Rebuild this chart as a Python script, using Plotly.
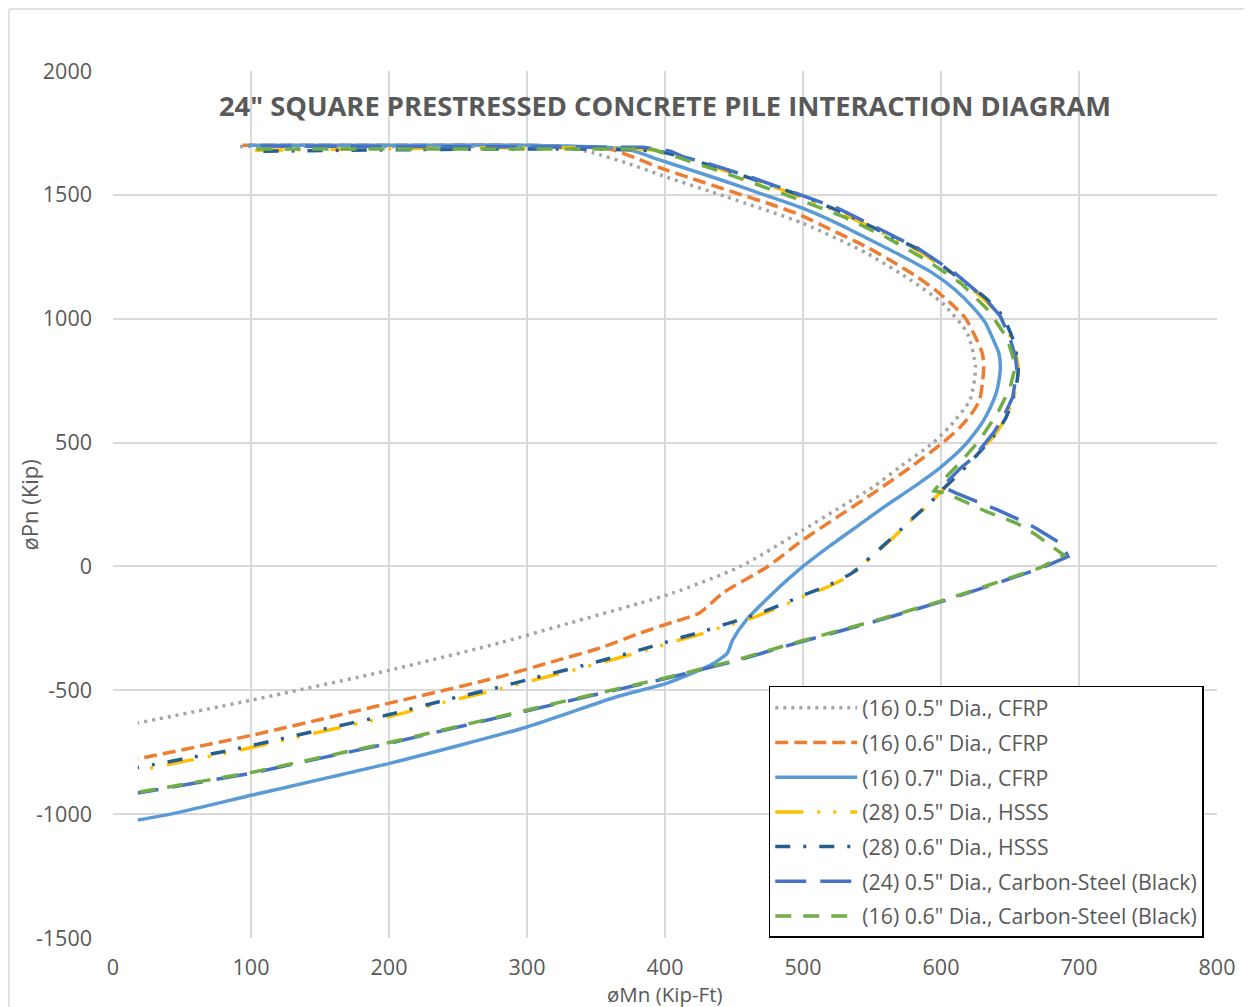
import plotly.graph_objects as go

# ---- data ----
series_names = [
    '(16) 0.5" Dia., CFRP',
    '(16) 0.6" Dia., CFRP',
    '(16) 0.7" Dia., CFRP',
    '(28) 0.5" Dia., HSSS',
    '(28) 0.6" Dia., HSSS',
    '(24) 0.5" Dia., Carbon-Steel (Black)',
    '(16) 0.6" Dia., Carbon-Steel (Black)',
]

mn_cfrp_05 = [92, 150, 250, 330, 348, 372, 401, 445, 500, 546, 578, 601, 619, 625, 621, 606, 594, 570, 551, 525,
              500, 454, 406, 382, 330, 280, 201, 101, 18]
pn_cfrp_05 = [1695, 1695, 1695, 1690, 1669, 1629, 1572, 1491, 1385, 1265, 1156, 1063, 942, 805, 672, 563, 498, 401, 321, 232,
              147, -2, -107, -148, -230, -309, -418, -539, -632]

mn_cfrp_06 = [94, 200, 300, 360, 378, 396, 420, 449, 475, 498, 522, 546, 565, 583, 596, 607, 618, 626, 630, 631,
              630, 628, 622, 614, 601, 578, 551, 525, 500, 474, 442, 425, 405, 382, 353, 320, 280, 201, 101, 18]
pn_cfrp_06 = [1700, 1700, 1700, 1685, 1650, 1610, 1565, 1512, 1465, 1419, 1355, 1290, 1230, 1168, 1115, 1063, 1000, 914, 860, 805,
              740, 672, 615, 563, 498, 401, 296, 200, 107, -2, -107, -188, -226, -269, -329, -382, -446, -551, -681, -777]

mn_cfrp_07 = [98, 200, 300, 372, 396, 420, 445, 472, 500, 524, 546, 570, 594, 610, 623, 632, 638, 642, 643, 642,
              640, 636, 631, 624, 616, 599, 580, 560, 540, 520, 500, 478, 459, 449, 445, 433, 401, 365, 300,
              201, 101, 46, 18]
pn_cfrp_07 = [1700, 1700, 1700, 1685, 1641, 1598, 1552, 1500, 1445, 1387, 1326, 1258, 1184, 1118, 1047, 985, 914, 860, 805, 750,
              700, 645, 591, 535, 482, 397, 320, 245, 165, 85, 0, -109, -216, -297, -351, -398, -472, -526, -648,
              -794, -923, -995, -1024]

mn_hsss_05 = [103, 395, 420, 445, 470, 500, 530, 560, 585, 609, 630, 643, 652, 656, 654, 647, 638, 626, 614, 601,
              592, 580, 568, 558, 545, 536, 517, 503, 484, 459, 443, 428, 413, 400, 382, 353, 300, 273, 241, 201,
              147, 117, 85, 53, 18]
pn_hsss_05 = [1680, 1680, 1640, 1595, 1548, 1490, 1420, 1340, 1270, 1176, 1085, 1007, 902, 800, 712, 600, 525, 450, 380, 308,
              254, 195, 130, 80, 15, -30, -85, -115, -162, -216, -242, -270, -293, -315, -345, -390, -466, -505, -547, -605,
              -672, -710, -750, -785, -825]

mn_hsss_06 = [109, 395, 420, 447, 472, 502, 532, 561, 587, 610, 632, 645, 653, 656, 654, 647, 638, 626, 614, 601,
              592, 580, 568, 558, 545, 536, 517, 503, 484, 459, 443, 428, 413, 400, 382, 353, 300, 273, 241, 201,
              147, 117, 85, 53, 18]
pn_hsss_06 = [1676, 1676, 1640, 1595, 1548, 1490, 1420, 1340, 1270, 1176, 1085, 1007, 902, 800, 712, 600, 525, 450, 380, 310,
              256, 197, 133, 83, 18, -25, -80, -110, -155, -208, -234, -262, -285, -307, -337, -382, -458, -497, -539, -597,
              -664, -702, -742, -775, -812]

mn_cs_05 = [107, 384, 404, 413, 435, 464, 493, 525, 554, 583, 609, 633, 643, 650, 654, 655, 652, 645, 638, 631,
            624, 614, 601, 611, 633, 641, 662, 670, 688, 692, 672, 604, 556, 498, 449, 401, 353, 280, 201, 101, 18]
pn_cs_05 = [1697, 1692, 1676, 1654, 1620, 1568, 1510, 1447, 1366, 1285, 1189, 1076, 1010, 922, 845, 790, 684, 600, 539, 490,
            442, 396, 322, 296, 248, 228, 175, 150, 88, 40, -8, -136, -216, -305, -385, -452, -513, -608, -713, -834, -915]

mn_cs_06 = [104, 390, 410, 440, 470, 500, 530, 560, 590, 615, 635, 648, 654, 650, 641, 628, 614, 600, 595, 604,
            633, 655, 669, 686, 689, 672, 604, 556, 498, 449, 401, 353, 280, 201, 101, 18]
pn_cs_06 = [1685, 1685, 1650, 1595, 1535, 1475, 1410, 1330, 1235, 1140, 1030, 920, 810, 720, 619, 510, 420, 340, 305, 295,
            221, 174, 127, 60, 46, -5, -133, -213, -302, -382, -449, -510, -605, -710, -831, -912]

x_ticks = [0, 100, 200, 300, 400, 500, 600, 700, 800]
y_ticks = [-1500, -1000, -500, 0, 500, 1000, 1500, 2000]

# ---- styles ----
colors = ['#A5A5A5', '#ED7D31', '#5B9BD5', '#FFC000', '#255E91', '#4472C4', '#70AD47']
dashes = ['3px,5px', '13px,6px', 'solid', '28px,14px,3px,13px,3px,14px',
          '15px,13px,3px,13px', '31px,14px', '16px,12px']
shapes_ = ['spline', 'spline', 'spline', 'spline', 'spline', 'linear', 'linear']

xs = [mn_cfrp_05, mn_cfrp_06, mn_cfrp_07, mn_hsss_05, mn_hsss_06, mn_cs_05, mn_cs_06]
ys = [pn_cfrp_05, pn_cfrp_06, pn_cfrp_07, pn_hsss_05, pn_hsss_06, pn_cs_05, pn_cs_06]

TXT = '#595959'
FONT = 'Open Sans'
GRID = '#D9D9D9'

fig = go.Figure()
for i, name in enumerate(series_names):
    fig.add_trace(go.Scatter(
        x=xs[i], y=ys[i], name=name, mode='lines',
        legendgroup='g%d' % i,
        line=dict(color=colors[i], width=3.5, dash=dashes[i], shape=shapes_[i], smoothing=0.6),
    ))

# the page body adds an 8px offset; the figure is sized to fill the rest of the window
fig.update_layout(
    width=1244, height=999,
    margin=dict(l=105, r=35, t=63, b=69, autoexpand=False),
    paper_bgcolor='white', plot_bgcolor='white',
    font=dict(family=FONT, color=TXT, size=21),
    title=dict(text='24" SQUARE PRESTRESSED CONCRETE PILE INTERACTION DIAGRAM',
               x=0.5, xref='paper', xanchor='center',
               y=0.9596, yref='paper', yanchor='middle',
               font=dict(family=FONT, size=27.3, color=TXT, weight='bold')),
    xaxis=dict(range=[0, 800], tickvals=x_ticks, ticktext=[str(v) for v in x_ticks],
               showgrid=True, gridcolor=GRID, gridwidth=1.5,
               zeroline=False, showline=False, ticks='', ticklabelstandoff=14,
               tickfont=dict(size=21.5, color=TXT), automargin=False),
    yaxis=dict(range=[-1500, 2000], tickvals=y_ticks, ticktext=[str(v) for v in y_ticks],
               showgrid=True, gridcolor=GRID, gridwidth=1.5,
               zeroline=False, showline=False, ticks='', ticklabelstandoff=20,
               tickfont=dict(size=21.5, color=TXT), automargin=False),
    legend=dict(x=0.594, y=0.2907, xanchor='left', yanchor='top',
                bgcolor='white', bordercolor='black', borderwidth=1.5,
                font=dict(family=FONT, size=21.3, color=TXT),
                tracegroupgap=4, itemwidth=82),
    showlegend=True,
)

# axis titles
fig.add_annotation(text='øMn (Kip-Ft)', xref='paper', yref='paper', x=0.5, y=-0.0646,
                   xanchor='center', yanchor='middle', showarrow=False,
                   font=dict(family=FONT, size=20.5, color=TXT))
fig.add_annotation(text='øPn (Kip)', xref='paper', yref='paper', x=-0.0761, y=0.5,
                   xanchor='center', yanchor='middle', showarrow=False, textangle=-90,
                   font=dict(family=FONT, size=22, color=TXT))

# outer chart border (top and left edges visible in the reference)
fig.add_shape(type='line', xref='paper', yref='paper', x0=-0.0942, x1=1.04, y0=1.0715, y1=1.0715,
              line=dict(color=GRID, width=1.5))
fig.add_shape(type='line', xref='paper', yref='paper', x0=-0.0942, x1=-0.0942, y0=-0.09, y1=1.0715,
              line=dict(color=GRID, width=1.5))

fig.write_html('out.html')
